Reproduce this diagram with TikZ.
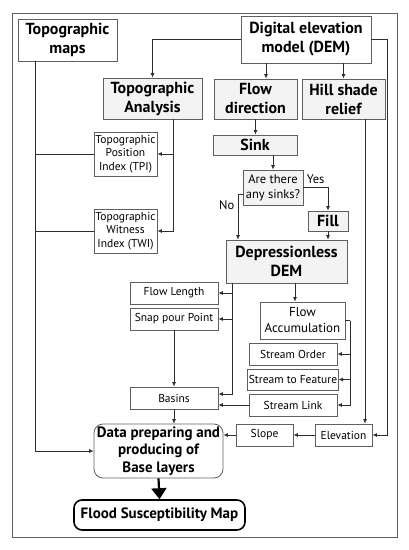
\documentclass[tikz,border=0pt]{standalone}
\usepackage{fontspec}
\setmainfont{PT Sans}
\usetikzlibrary{arrows.meta}
\definecolor{boxgray}{RGB}{95,95,95}
\definecolor{linegray}{RGB}{45,45,45}
\definecolor{lightfill}{RGB}{243,243,243}

\begin{document}
\begin{tikzpicture}[x=1pt, y=-1pt, >={Latex[length=4.5pt,width=4pt]},
    line width=0.8pt, draw=linegray,
    bigbox/.style={draw=boxgray, line width=0.8pt, align=center, inner sep=1pt,
          font=\fontsize{16}{19}\selectfont\bfseries},
    smallbox/.style={draw=boxgray, line width=0.8pt, align=center, inner sep=1pt,
          font=\fontsize{11.5}{13.5}\selectfont},
    shaded/.style={fill=lightfill},
    link/.style={draw=linegray, line width=0.8pt}]
  \useasboundingbox (0,0) rectangle (409,550);
  \draw[boxgray, line width=1pt] (12,13) rectangle (397,537);

  % top row
  \node[bigbox, minimum width=99pt, minimum height=42pt] (maps) at (67.5,40)
        {Topographic\\maps};
  \node[bigbox, minimum width=130pt, minimum height=47pt] (dem) at (306,39.5)
        {Digital elevation\\model (DEM)};
  \node[bigbox, shaded, minimum width=99pt, minimum height=41pt] (tana) at (152.5,98.5)
        {Topographic\\Analysis};
  \node[bigbox, shaded, minimum width=83pt, minimum height=40pt] (fdir) at (255.5,99)
        {Flow\\direction};
  \node[bigbox, shaded, minimum width=83pt, minimum height=40pt] (hill) at (343.5,99)
        {Hill shade\\relief};

  % topographic indices
  \node[smallbox, minimum width=63pt, minimum height=44pt] (tpi) at (125.5,154)
        {Topographic\\Position\\Index (TPI)};
  \node[smallbox, minimum width=63pt, minimum height=44pt] (twi) at (125.5,231)
        {Topographic\\Witness\\Index (TWI)};

  % sink filling
  \node[bigbox, shaded, minimum width=84pt, minimum height=20pt] (sink) at (255,145) {Sink};
  \node[smallbox, shaded, minimum width=60pt, minimum height=35pt,
        font=\fontsize{12.5}{15}\selectfont] (ask) at (273,187.5) {Are there\\any sinks?};
  \node[bigbox, shaded, minimum width=40pt, minimum height=20pt] (fill) at (328,221) {Fill};
  \node[bigbox, shaded, minimum width=121pt, minimum height=43pt] (dless) at (286.5,261.5)
        {Depressionless\\DEM};

  % hydrology
  \node[smallbox, minimum width=88pt, minimum height=22pt] (flen) at (174,293) {Flow Length};
  \node[smallbox, minimum width=88pt, minimum height=22pt] (snap) at (174,319) {Snap pour Point};
  \node[smallbox, minimum width=88pt, minimum height=22pt] (basins) at (174,398) {Basins};
  \node[smallbox, minimum width=85pt, minimum height=37pt,
        font=\fontsize{13}{16}\selectfont] (facc) at (302.5,320.5) {Flow\\Accumulation};
  \node[smallbox, minimum width=88pt, minimum height=22pt] (sorder) at (293,354) {Stream Order};
  \node[smallbox, minimum width=88pt, minimum height=21pt] (sfeat) at (293,379.5) {Stream to Feature};
  \node[smallbox, minimum width=88pt, minimum height=22pt] (slink) at (293,405) {Stream Link};
  \node[smallbox, minimum width=57pt, minimum height=22pt] (elev) at (343.5,435) {Elevation};
  \node[smallbox, minimum width=57pt, minimum height=22pt] (slope) at (264.5,435) {Slope};

  % outputs
  \node[bigbox, rounded corners=9pt, minimum width=129pt, minimum height=54pt,
        font=\fontsize{15}{17.5}\selectfont\bfseries] (data) at (158.5,451)
        {Data preparing and\\producing of\\Base layers};
  \node[bigbox, draw=black, line width=1.6pt, rounded corners=8pt, minimum width=171pt,
        minimum height=30pt, font=\fontsize{15}{17.5}\selectfont\bfseries] (flood)
        at (159.5,515) {Flood Susceptibility Map};

  \coordinate (trunk) at ([xshift=-32.5pt]maps.south);
  \coordinate (demr) at (387,435);
  \coordinate (fr) at ([xshift=5pt]facc.east);

  % connectors
  \draw[link,->] (dem.west) -| (tana.north);
  \draw[link,->] (dem.east) -| (demr) -- (elev.east);
  \draw[link,->] ([xshift=-40pt]dem.south) -- ([xshift=-40pt]dem.south |- fdir.north);
  \draw[link,->] (dem.south -| hill.north) -- (hill.north);
  \draw[link,->] ([xshift=20.5pt]tana.south) |- (tpi.east);
  \draw[link,->] ([xshift=20.5pt]tana.south) |- (twi.east);
  \draw[link,->] (trunk) |- (data.west);
  \draw[link] (tpi.west) -- (tpi.west -| trunk);
  \draw[link] (twi.west) -- (twi.west -| trunk);
  \draw[link,->] (fdir.south) -- (fdir.south |- sink.north);
  \draw[link,->] (sink.south -| ask.north) -- (ask.north);
  \draw[link,->] (ask.east) -| (fill.north)
        node[pos=0.25, above, font=\fontsize{12.5}{15}\selectfont] {Yes};
  \draw[link,->] ([yshift=-7pt]ask.west) -| ([xshift=-48.5pt]dless.north)
        node[pos=0.62, left, font=\fontsize{12.5}{15}\selectfont] {No};
  \draw[link,->] (fill.south) -- (fill.south |- dless.north);
  \draw[link,->] ([xshift=-54.5pt]dless.south) |- (flen.east);
  \draw[link,->] ([xshift=-54.5pt]dless.south) |- (snap.east);
  \draw[link,->] ([xshift=-54.5pt]dless.south) |- ([yshift=4pt]basins.east);
  \draw[link,->] (snap.south) -- (basins.north);
  \draw[link,->] ([xshift=8.5pt]dless.south) -- ([xshift=8.5pt]dless.south |- facc.north);
  \draw[link] (facc.east) -- (fr);
  \draw[link,->] (fr) |- (sorder.east);
  \draw[link,->] (fr) |- (sfeat.east);
  \draw[link,->] (fr) |- (slink.east);
  \draw[link,->] (slink.west) -- (slink.west -| basins.east);
  \draw[link,->] (basins.south) -- (basins.south |- data.north);
  \draw[link,->] ([xshift=21.5pt]hill.south) -- ([xshift=21.5pt]hill.south |- elev.north);
  \draw[link,->] (elev.west) -- (slope.east);
  \draw[link,->] (slope.west) -- (slope.west -| data.east);
  \draw[black, line width=2.2pt, -{Triangle[length=11pt,width=15pt]}] (data.south) -- (flood.north);
\end{tikzpicture}
\end{document}
